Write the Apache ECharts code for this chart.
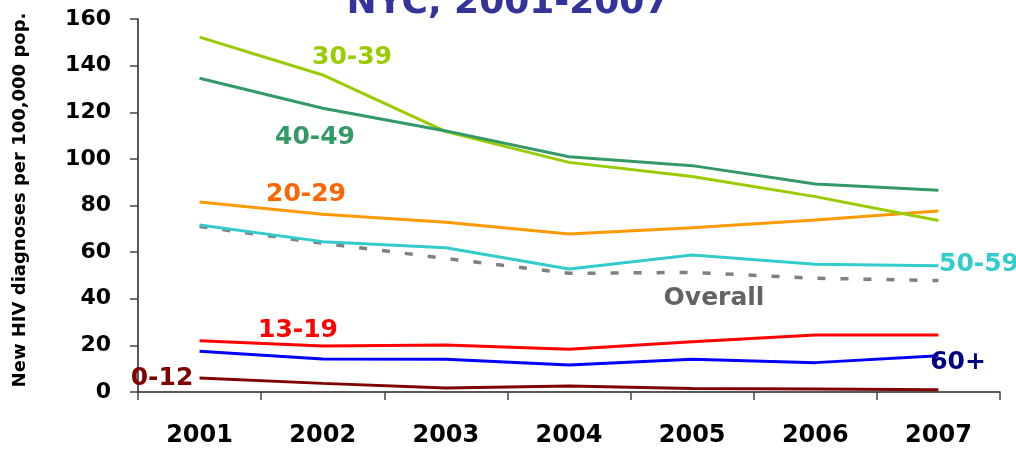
<!DOCTYPE html>
<html>
<head>
<meta charset="utf-8">
<script src="https://cdn.jsdelivr.net/npm/echarts@6/dist/echarts.min.js"></script>
<style>
  html, body { margin: 0; padding: 0; background: #fff; }
  #chart { width: 1016px; height: 450px; }
</style>
</head>
<body>
<div id="chart"></div>
<script>
// ---- Data ----
const years = ['2001', '2002', '2003', '2004', '2005', '2006', '2007'];
const yTicks = [0, 20, 40, 60, 80, 100, 120, 140, 160];

const age30_39 = [152.2, 136.0, 111.7, 98.5, 92.4, 83.8, 73.6];
const age40_49 = [134.6, 121.7, 112.0, 100.9, 97.1, 89.2, 86.5];
const age20_29 = [81.5, 76.2, 72.8, 67.8, 70.5, 73.8, 77.6];
const age50_59 = [71.6, 64.5, 61.9, 52.8, 58.8, 54.8, 54.2];
const overall  = [71.0, 63.8, 57.3, 50.9, 51.3, 48.8, 47.8];
const age13_19 = [22.0, 19.7, 20.2, 18.3, 21.6, 24.5, 24.5];
const age60p   = [17.5, 14.2, 14.0, 11.6, 14.0, 12.6, 15.6];
const age0_12  = [6.0, 3.7, 1.7, 2.6, 1.5, 1.3, 1.0];

const titleText = 'NYC, 2001-2007';
const yAxisTitle = 'New HIV diagnoses per 100,000 pop.';

// ---- Chart ----
const FONT = 'DejaVu Sans';
const chart = echarts.init(document.getElementById('chart'), null, { renderer: 'canvas' });

function line(name, data, color, extra) {
  return Object.assign({
    name: name,
    type: 'line',
    data: data,
    showSymbol: false,
    symbol: 'none',
    animation: false,
    lineStyle: { color: color, width: 3 },
    itemStyle: { color: color }
  }, extra || {});
}

function label(text, cx, cy, color) {
  return {
    type: 'text',
    x: cx, y: cy,
    style: {
      text: text,
      fill: color,
      fontFamily: FONT,
      fontWeight: 'bold',
      fontSize: 25,
      align: 'center',
      verticalAlign: 'middle'
    },
    z: 100
  };
}

const option = {
  animation: false,
  backgroundColor: '#ffffff',
  title: {
    text: titleText,
    left: 'center',
    top: -19,
    textStyle: { fontFamily: FONT, fontWeight: 'bold', fontSize: 36, color: '#333399' }
  },
  grid: { left: 138, right: 16, top: 19, bottom: 58, containLabel: false },
  xAxis: {
    type: 'category',
    data: years,
    boundaryGap: true,
    axisLine: { show: true, lineStyle: { color: '#222', width: 1.5 } },
    axisTick: { show: true, inside: false, length: 8, lineStyle: { color: '#444', width: 1.5 } },
    axisLabel: { fontFamily: FONT, fontWeight: 'bold', fontSize: 24, color: '#000', margin: 32 },
    splitLine: { show: false }
  },
  yAxis: {
    type: 'value',
    min: 0, max: 160, interval: 20,
    axisLine: { show: true, lineStyle: { color: '#222', width: 1.5 } },
    axisTick: { show: true, inside: false, length: 8, lineStyle: { color: '#444', width: 1.5 } },
    axisLabel: {
      fontFamily: FONT, fontWeight: 'bold', fontSize: 22, color: '#000', margin: 27,
      formatter: function (v) { return yTicks.indexOf(v) >= 0 ? String(v) : ''; }
    },
    splitLine: { show: false }
  },
  series: [
    line('Overall', overall, '#808080', { lineStyle: { color: '#808080', width: 3.5, type: [8, 15] } }),
    line('0-12', age0_12, '#800000'),
    line('60+', age60p, '#0000FF'),
    line('13-19', age13_19, '#FF0000'),
    line('50-59', age50_59, '#33CCCC'),
    line('20-29', age20_29, '#FF9900'),
    line('30-39', age30_39, '#99CC00'),
    line('40-49', age40_49, '#339966')
  ],
  graphic: [
    {
      type: 'text',
      x: 20, y: 200,
      rotation: Math.PI / 2,
      style: {
        text: yAxisTitle,
        fill: '#000',
        fontFamily: FONT,
        fontWeight: 'bold',
        fontSize: 18,
        align: 'center',
        verticalAlign: 'middle'
      }
    },
    label('30-39', 352, 57, '#99CC00'),
    label('40-49', 315, 137, '#339966'),
    label('20-29', 306, 194, '#FF6600'),
    label('Overall', 714, 298, '#636363'),
    label('50-59', 979, 264, '#33CCCC'),
    label('13-19', 298, 330, '#FF0000'),
    label('60+', 958, 362, '#000080'),
    label('0-12', 162, 378, '#800000')
  ]
};

chart.setOption(option);
</script>
</body>
</html>
